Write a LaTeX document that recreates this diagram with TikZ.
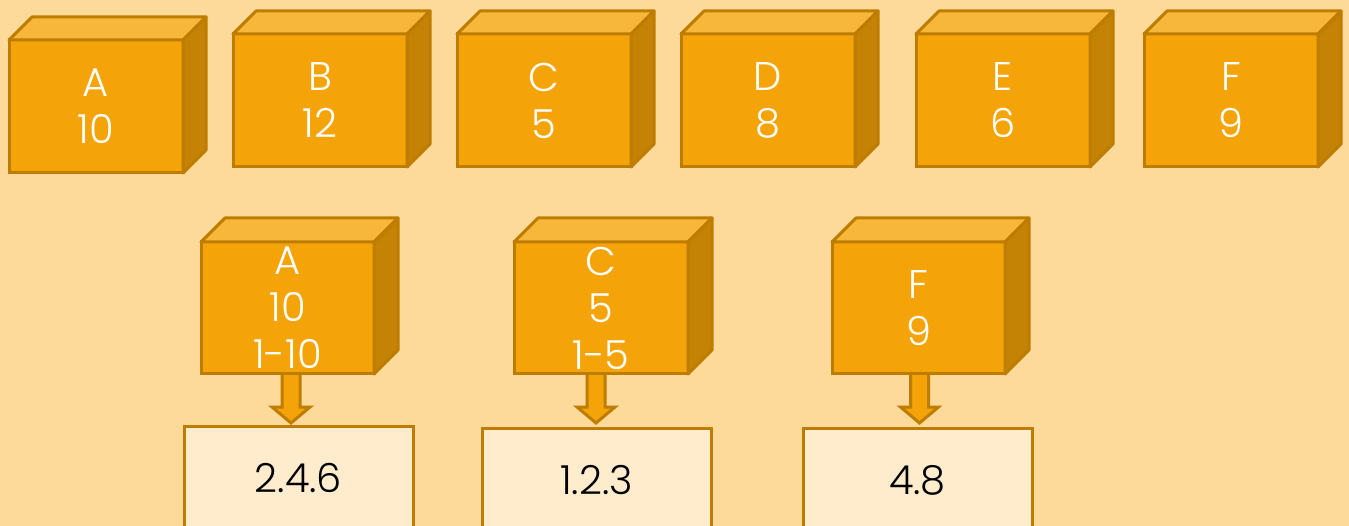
\documentclass[tikz,border=0pt]{standalone}
\usepackage{fontspec}
\IfFontExistsTF{Poppins Light}{\setmainfont{Poppins Light}}{\setmainfont{Poppins}}
\usetikzlibrary{calc}
\definecolor{bg}{RGB}{253,218,154}
\definecolor{frontc}{RGB}{244,164,9}
\definecolor{topc}{RGB}{247,183,58}
\definecolor{sidec}{RGB}{197,131,5}
\definecolor{edgec}{RGB}{190,124,0}
\definecolor{resc}{RGB}{254,236,204}
\tikzset{
  front/.style={draw=edgec, fill=frontc, line width=3pt, inner sep=0pt, outer sep=0pt,
    text=white, align=center, font=\fontsize{40}{47}\selectfont},
  topface/.style={draw=edgec, fill=topc, line width=3pt, line join=round},
  sideface/.style={draw=edgec, fill=sidec, line width=3pt, line join=round},
  resbox/.style={draw=edgec, fill=resc, line width=3pt, inner sep=0pt, outer sep=0pt,
    minimum width=229, minimum height=104, anchor=north, text=black,
    font=\fontsize{40}{47}\selectfont},
  downarrow/.style={draw=edgec, fill=frontc, line width=3pt, line join=miter},
}
% name, x, y, width, height, depth, text
\newcommand\mycube[7]{%
  \node[front, minimum width=#4, minimum height=#5, anchor=north west] (#1) at (#2,#3) {#7};
  \draw[topface] (#1.north west) -- ++(#6,-#6) -- ++(#4,0) -- (#1.north east) -- cycle;
  \draw[sideface] (#1.north east) -- ++(#6,-#6) -- ++(0,#5) -- (#1.south east) -- cycle;
}
% start coordinate name (top centre of shaft)
\newcommand\myarrow[1]{%
  \draw[downarrow] ($(#1)+(-9,-2)$) -- ($(#1)+(-9,33)$) -- ($(#1)+(-19,33)$) -- ($(#1)+(0,49)$)
    -- ($(#1)+(19,33)$) -- ($(#1)+(9,33)$) -- ($(#1)+(9,-2)$) -- cycle;
}
\begin{document}
\begin{tikzpicture}[x=1pt,y=-1pt]
\useasboundingbox (0,0) rectangle (1349,526);
\clip (0,0) rectangle (1349,526);
\fill[bg] (0,0) rectangle (1349,526);

% top row
\mycube{a}{9}{40}{174}{133}{23}{A\\10}
\mycube{b}{233}{34}{174}{133}{23}{B\\12}
\mycube{c}{457}{34}{174}{133}{23}{C\\5}
\mycube{d}{681}{34}{174}{133}{23}{D\\8}
\mycube{e}{916}{34}{174}{133}{23}{E\\6}
\mycube{f}{1144}{34}{174}{133}{23}{F\\9}

% result boxes
\node[resbox] (ra) at (298.5,426) {2.4.6};
\node[resbox] (rc) at (596.5,428) {1.2.3};
\node[resbox] (rf) at (917.5,428) {4.8};

% arrows (drawn under the cubes)
\coordinate (sa) at (291,374);
\coordinate (sc) at (596,374);
\coordinate (sf) at (919.5,374);
\myarrow{sa}
\myarrow{sc}
\myarrow{sf}

% bottom row
\mycube{a2}{201}{242}{173}{132}{24}{A\\10\\1-10}
\mycube{c2}{514}{242}{174}{132}{24}{C\\5\\1-5}
\mycube{f2}{832}{242}{173}{132}{24}{F\\9}
\end{tikzpicture}
\end{document}
